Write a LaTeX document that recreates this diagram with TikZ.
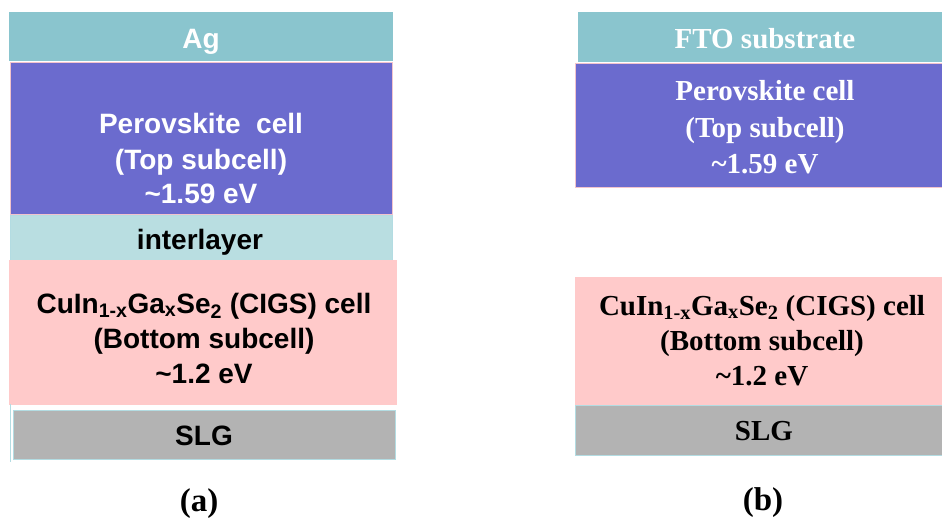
\documentclass[tikz,border=0pt]{standalone}
\usepackage{fontspec}
\setmainfont{Liberation Serif}
\newfontfamily\arialfont{Liberation Sans}
\definecolor{tealfill}{HTML}{8AC5CE}
\definecolor{perofill}{HTML}{6B6BCE}
\definecolor{interfill}{HTML}{B9DEE1}
\definecolor{cigsfill}{HTML}{FFCACA}
\definecolor{slgfill}{HTML}{B3B3B3}
\definecolor{pinkedge}{HTML}{F2C4CC}
\definecolor{blueedge}{HTML}{B3DCE2}
\newcommand{\tld}{\textasciitilde}
\tikzset{
  txt/.style={inner sep=0pt, anchor=base},
  sanstxt/.style={txt, font=\arialfont\bfseries\fontsize{28}{34}\selectfont},
  seriftxt/.style={txt, font=\bfseries\fontsize{29}{35}\selectfont},
  captxt/.style={txt, font=\bfseries\fontsize{33}{38}\selectfont},
  pinkrim/.style={draw=pinkedge, line width=0.8pt},
  bluerim/.style={draw=blueedge, line width=0.8pt},
}
\begin{document}
\begin{tikzpicture}[x=1pt, y=-1pt]
\useasboundingbox (0,0) rectangle (942,517);

% ---------- (a) stack: Ag / perovskite / interlayer / CIGS / SLG ----------
\fill[tealfill] (9,12) rectangle (393,61);
\filldraw[fill=perofill, pinkrim] (10,62) rectangle (392,214);
\filldraw[fill=interfill, bluerim, line width=0.6pt] (10,215) rectangle (392,261);
\fill[cigsfill] (9,260) rectangle (397,405);
\draw[bluerim] (10,404) -- (10,462);
\filldraw[fill=slgfill, bluerim] (13,410) rectangle (395,459);

\node[sanstxt, text=white] (agtxt) at (201,48) {Ag};
\node[sanstxt, text=white] (pa1) at (201,133) {Perovskite\ \ cell};
\node[sanstxt, text=white] (pa2) at (201,169) {(Top subcell)};
\node[sanstxt, text=white] (pa3) at (201,203) {\tld1.59 eV};
\node[sanstxt] (intertxt) at (200,249) {interlayer};
\node[sanstxt] (ca1) at (204,313) {CuIn\textsubscript{1-x}Ga\textsubscript{x}Se\textsubscript{2} (CIGS) cell};
\node[sanstxt] (ca2) at (204,348) {(Bottom subcell)};
\node[sanstxt] (ca3) at (204,383) {\tld1.2 eV};
\node[sanstxt] (slga) at (204,445) {SLG};
\node[captxt] (capa) at (199,511) {(a)};

% ---------- (b) stack: FTO / perovskite ... CIGS / SLG ----------
\fill[tealfill] (578,12) rectangle (942,62);
\filldraw[fill=perofill, pinkrim] (575,63) rectangle (943,187);
\fill[cigsfill] (575,277) rectangle (942,405);
\filldraw[fill=slgfill, bluerim] (575,405) rectangle (943,455);

\node[seriftxt, text=white] (ftotxt) at (765,48) {FTO substrate};
\node[seriftxt, text=white] (pb1) at (765,100) {Perovskite cell};
\node[seriftxt, text=white] (pb2) at (765,137) {(Top subcell)};
\node[seriftxt, text=white] (pb3) at (765,173) {\tld1.59 eV};
\node[seriftxt] (cb1) at (762,315) {CuIn\textsubscript{1-x}Ga\textsubscript{x}Se\textsubscript{2} (CIGS) cell};
\node[seriftxt] (cb2) at (762,350) {(Bottom subcell)};
\node[seriftxt] (cb3) at (762,385) {\tld1.2 eV};
\node[seriftxt] (slgb) at (764,440) {SLG};
\node[captxt] (capb) at (763,510) {(b)};
\end{tikzpicture}
\end{document}
